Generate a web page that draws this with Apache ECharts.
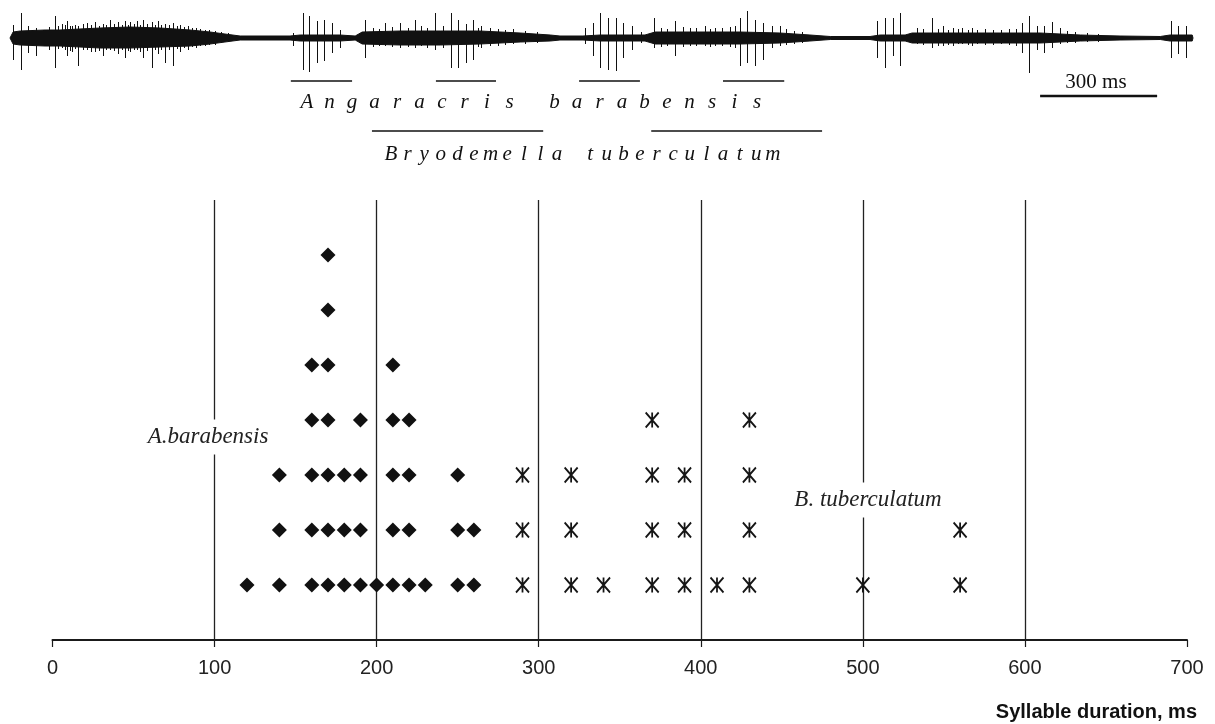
<!DOCTYPE html>
<html>
<head>
  <meta charset="utf-8">
  <title>Syllable duration</title>
  <script src="https://cdn.jsdelivr.net/npm/echarts@6/dist/echarts.min.js"></script>
  <style>
    html, body { margin: 0; background: #fff; }
    #main { width: 1215px; height: 724px; }
  </style>
</head>
<body>
  <div id="main"></div>
  <script>
    // syllable durations, ms - one array per row of the dot plot (bottom row first)
    var abRows = [
      [120, 140, 160, 170, 180, 190, 200, 210, 220, 230, 250, 260],
      [140, 160, 170, 180, 190, 210, 220, 250, 260],
      [140, 160, 170, 180, 190, 210, 220, 250],
      [160, 170, 190, 210, 220],
      [160, 170, 210],
      [170],
      [170]
    ];
    var btRows = [
      [290, 320, 340, 370, 390, 410, 430, 500, 560],
      [290, 320, 370, 390, 430, 560],
      [290, 320, 370, 390, 430],
      [370, 430]
    ];
    var xMin = 0, xMax = 700, xStep = 100;

    // oscillogram: envelope of the dense part (ms, +amp, -amp)
    var envTime = [0, 8, 26, 90, 128, 179, 231, 308, 385, 462, 513, 551, 590, 718, 744, 846, 885, 903, 1000, 1103,
      1205, 1308, 1385, 1410, 1469, 1513, 1628, 1654, 1769, 1872, 1974, 2051, 2103, 2205, 2231, 2295, 2313, 2538, 2641, 2744,
      2846, 2949, 2974, 3031, 3033];
    var envUp = [0, 6, 7, 8, 8, 9, 10, 11, 10, 8, 6, 4, 2, 2, 3, 3, 2, 6, 7, 7,
      7, 5, 3, 2, 2, 3, 3, 6, 6, 6, 5, 3, 1.5, 1.5, 3, 3, 5, 5, 5, 3,
      2, 1.5, 3, 3, 0];
    var envDown = [0, 6, 7, 8, 8, 9, 10, 10, 9, 8, 6, 4, 2, 2, 3, 3, 2, 6, 7, 7,
      6, 4, 3, 2, 2, 3, 3, 6, 6, 6, 5, 3, 1.5, 1.5, 3, 3, 5, 5, 5, 3,
      2, 1.5, 3, 3, 0];
    // single pulses: [ms, up, down]
    var spikes = [
      [8, 13, 22], [28, 25, 32], [46, 12, 15], [67, 10, 18], [85, 8, 6], [100, 11, 12], [115, 22, 30], [124, 12, 11],
      [133, 14, 10], [140, 13, 12], [146, 17, 18], [153, 12, 13], [159, 12, 14], [166, 13, 11], [174, 12, 28],
      [186, 14, 12], [197, 15, 12], [207, 13, 14], [218, 16, 14], [228, 12, 13], [238, 14, 18], [247, 13, 12],
      [256, 18, 12], [266, 14, 13], [277, 16, 16], [286, 13, 12], [295, 17, 20], [302, 13, 13], [308, 16, 14],
      [317, 14, 12], [326, 17, 12], [333, 13, 14], [341, 18, 20], [352, 14, 13], [364, 16, 30], [372, 13, 12],
      [379, 17, 16], [388, 13, 12], [397, 14, 25], [408, 13, 12], [418, 15, 28], [427, 12, 11], [436, 13, 14],
      [446, 11, 10], [456, 12, 12], [466, 10, 9], [477, 10, 10], [488, 9, 8], [500, 8, 8], [510, 8, 7],
      [525, 7, 7], [540, 6, 5], [560, 5, 4],
      [726, 5, 8], [751, 25, 32], [767, 22, 34], [787, 17, 25], [805, 18, 23], [826, 15, 15], [846, 8, 10],
      [910, 18, 20], [930, 10, 9], [945, 9, 8], [962, 15, 8], [980, 11, 9], [1000, 15, 10], [1020, 10, 9],
      [1038, 18, 10], [1055, 12, 8], [1070, 10, 10], [1090, 25, 12], [1110, 12, 10], [1131, 25, 30], [1149, 18, 30],
      [1169, 14, 25], [1187, 18, 22], [1200, 10, 9], [1208, 12, 10], [1231, 10, 8], [1250, 9, 8], [1270, 8, 7],
      [1290, 9, 6], [1320, 7, 6], [1350, 6, 5],
      [1474, 10, 6], [1495, 15, 18], [1513, 25, 30], [1533, 20, 32], [1554, 20, 33], [1572, 15, 20], [1595, 12, 12], [1618, 6, 5],
      [1651, 20, 10], [1670, 10, 9], [1685, 9, 8], [1705, 17, 18], [1725, 11, 9], [1744, 10, 8], [1760, 10, 8],
      [1782, 12, 8], [1795, 9, 9], [1808, 10, 8], [1825, 10, 8], [1845, 11, 9], [1860, 12, 10], [1872, 20, 28],
      [1890, 27, 25], [1910, 18, 28], [1931, 15, 22], [1954, 12, 10], [1974, 12, 8], [1990, 9, 7], [2010, 7, 6], [2030, 6, 5],
      [2223, 17, 20], [2244, 20, 30], [2264, 20, 18], [2282, 25, 28],
      [2326, 10, 6], [2340, 9, 7], [2364, 20, 10], [2380, 9, 8], [2392, 12, 8], [2405, 8, 7], [2418, 10, 8],
      [2430, 9, 6], [2441, 10, 6], [2455, 8, 7], [2467, 10, 8], [2480, 8, 6], [2500, 9, 7], [2520, 8, 7],
      [2540, 8, 6], [2560, 9, 7], [2580, 9, 8], [2595, 15, 15], [2613, 22, 35], [2633, 12, 12], [2651, 12, 15],
      [2672, 16, 10], [2692, 10, 6], [2710, 7, 5], [2730, 6, 5], [2760, 5, 4], [2790, 4, 4],
      [2977, 17, 20], [2995, 12, 16], [3015, 12, 20]
    ];
    // syllables marked under the oscillogram, ms
    var angSpans = [[720, 877], [1092, 1246], [1459, 1615], [1828, 1985]];
    var bryoSpans = [[928, 1367], [1644, 2082]];
    var scaleBar = [[2641, 2941]];

    var ink = '#111';
    var serif = '"Liberation Serif", "DejaVu Serif", serif';
    var sans = '"Liberation Sans", Arial, sans-serif';

    function rowsToPoints(rows) {
      var out = [];
      rows.forEach(function (row, i) {
        row.forEach(function (x) { out.push([x, i + 1]); });
      });
      return out;
    }

    function spanRenderer(level, width) {
      return function (params, api) {
        var a = api.coord([api.value(0), level]);
        var b = api.coord([api.value(1), level]);
        return {
          type: 'line',
          shape: { x1: a[0], y1: a[1], x2: b[0], y2: b[1] },
          style: { stroke: ink, lineWidth: width }
        };
      };
    }

    // letter-spaced species names
    function spacedText(str, x0, pitch, y, size) {
      var els = [];
      for (var i = 0; i < str.length; i++) {
        if (str[i] === ' ') continue;
        els.push({
          type: 'text', x: x0 + i * pitch, y: y, z: 100,
          style: {
            text: str[i], fill: ink, font: 'italic ' + size + 'px ' + serif,
            align: 'center', verticalAlign: 'middle'
          }
        });
      }
      return els;
    }

    var chart = echarts.init(document.getElementById('main'), null, { renderer: 'canvas' });

    var graphics = []
      .concat(spacedText('Angaracris barabensis', 307, 22.5, 102, 21))
      .concat(spacedText('Bryodemella tuberculatum', 391, 16.6, 154, 21))
      .concat([
        {
          type: 'text', x: 1096, y: 82, z: 100,
          style: { text: '300 ms', fill: ink, font: '21px ' + serif, align: 'center', verticalAlign: 'middle' }
        },
        {
          type: 'text', x: 208, y: 437, z: 100,
          style: {
            text: 'A.barabensis', fill: '#222', font: 'italic 23px ' + serif, align: 'center',
            verticalAlign: 'middle', backgroundColor: '#fff', padding: [6, 2, 6, 2]
          }
        },
        {
          type: 'text', x: 868, y: 500, z: 100,
          style: {
            text: 'B. tuberculatum', fill: '#222', font: 'italic 23px ' + serif, align: 'center',
            verticalAlign: 'middle', backgroundColor: '#fff', padding: [6, 2, 6, 2]
          }
        },
        {
          type: 'text', x: 1197, y: 712, z: 100,
          style: { text: 'Syllable duration, ms', fill: '#111', font: 'bold 20px ' + sans, align: 'right', verticalAlign: 'middle' }
        }
      ]);

    var option = {
      animation: false,
      backgroundColor: '#fff',
      grid: [
        { left: 52.5, right: 28, top: 200, bottom: 84 },
        { left: 10, right: 22, top: 2, height: 132 }
      ],
      xAxis: [
        {
          gridIndex: 0, type: 'value', min: xMin, max: xMax, interval: xStep,
          axisLine: { lineStyle: { color: '#1a1a1a', width: 2 } },
          axisTick: { length: 7, lineStyle: { color: '#1a1a1a', width: 1.2 } },
          axisLabel: { color: '#222', fontSize: 20, fontFamily: sans, margin: 18 },
          splitLine: { show: true, showMinLine: false, showMaxLine: false, lineStyle: { color: '#222', width: 1.3 } }
        },
        {
          gridIndex: 1, type: 'value', min: 0, max: 3033, show: false
        }
      ],
      yAxis: [
        { gridIndex: 0, type: 'value', min: 0, max: 8, show: false },
        { gridIndex: 1, type: 'value', min: -96, max: 36, show: false }
      ],
      graphic: graphics,
      series: [
        {
          name: 'A. barabensis', type: 'scatter', xAxisIndex: 0, yAxisIndex: 0,
          data: rowsToPoints(abRows),
          symbol: 'diamond', symbolSize: [15, 15],
          itemStyle: { color: ink, opacity: 1 }
        },
        {
          name: 'B. tuberculatum', type: 'scatter', xAxisIndex: 0, yAxisIndex: 0,
          data: rowsToPoints(btRows),
          symbol: 'path://M0,0L12,14M12,0L0,14M6,0L6,14', symbolSize: [13, 15],
          itemStyle: { color: 'rgba(0,0,0,0)', borderColor: '#151515', borderWidth: 1.9, opacity: 1 }
        },
        {
          type: 'line', xAxisIndex: 1, yAxisIndex: 1, symbol: 'none', silent: true,
          data: envTime.map(function (t, i) { return [t, envUp[i]]; }),
          lineStyle: { color: ink, width: 1 }, areaStyle: { color: ink, opacity: 1 }
        },
        {
          type: 'line', xAxisIndex: 1, yAxisIndex: 1, symbol: 'none', silent: true,
          data: envTime.map(function (t, i) { return [t, -envDown[i]]; }),
          lineStyle: { color: ink, width: 1 }, areaStyle: { color: ink, opacity: 1 }
        },
        {
          type: 'custom', xAxisIndex: 1, yAxisIndex: 1, silent: true, clip: false,
          data: spikes,
          encode: { x: 0, y: [1, 2] },
          renderItem: function (params, api) {
            var top = api.coord([api.value(0), api.value(1)]);
            var bot = api.coord([api.value(0), -api.value(2)]);
            var x = Math.round(top[0]) + 0.5;
            return {
              type: 'line',
              shape: { x1: x, y1: top[1], x2: x, y2: bot[1] },
              style: { stroke: ink, lineWidth: 1 }
            };
          }
        },
        {
          type: 'custom', xAxisIndex: 1, yAxisIndex: 1, silent: true, clip: false,
          data: angSpans, encode: { x: [0, 1] },
          renderItem: spanRenderer(-43, 1.6)
        },
        {
          type: 'custom', xAxisIndex: 1, yAxisIndex: 1, silent: true, clip: false,
          data: bryoSpans, encode: { x: [0, 1] },
          renderItem: spanRenderer(-93, 1.6)
        },
        {
          type: 'custom', xAxisIndex: 1, yAxisIndex: 1, silent: true, clip: false,
          data: scaleBar, encode: { x: [0, 1] },
          renderItem: spanRenderer(-58, 2.6)
        }
      ]
    };

    chart.setOption(option);
  </script>
</body>
</html>
